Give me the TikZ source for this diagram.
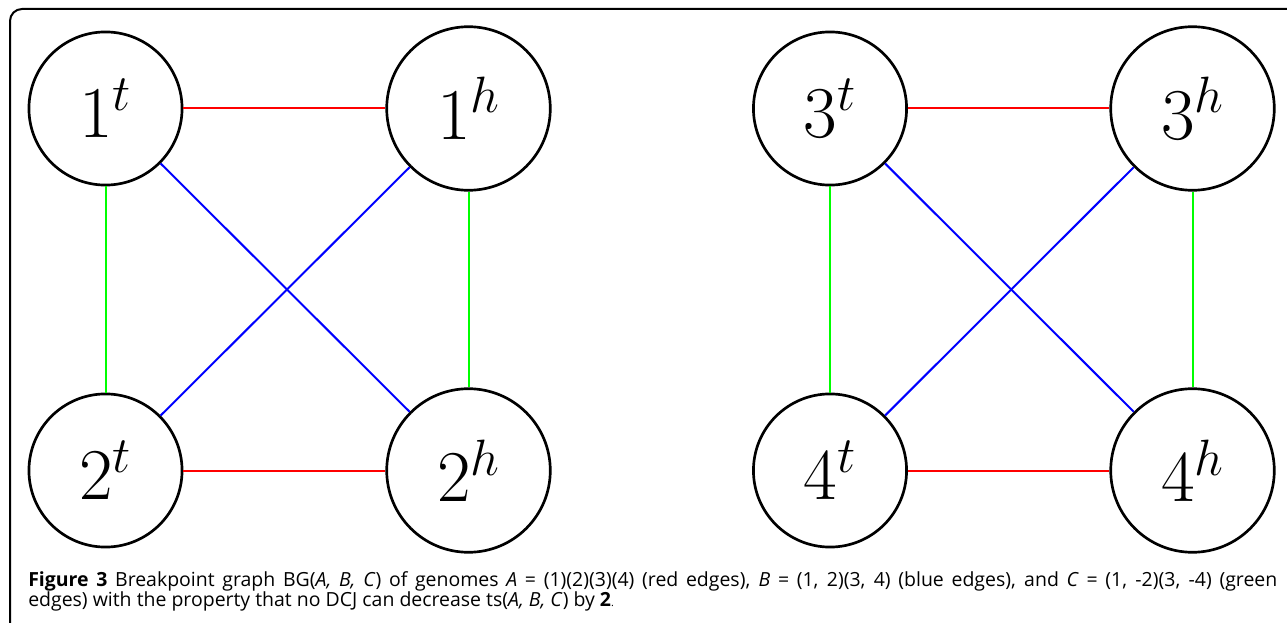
\RequirePackage{fix-cm}
\documentclass[tikz,border=0pt]{standalone}
\usepackage{fontspec}
\newfontfamily\capfont{Open Sans}
\definecolor{bgred}{RGB}{255,0,0}
\definecolor{bgblue}{RGB}{0,0,255}
\definecolor{bggreen}{RGB}{0,255,0}
\tikzset{
  vertex/.style={circle, draw=black, line width=2pt, inner sep=20pt,
    font=\fontsize{54.75}{60}\selectfont},
  redge/.style={draw=bgred, line width=1.5pt},
  bedge/.style={draw=bgblue, line width=1.5pt},
  gedge/.style={draw=bggreen, line width=1.5pt},
}
\begin{document}
\begin{tikzpicture}[x=0.75pt, y=-0.75pt]
        \useasboundingbox (0,0) rectangle (1287,623);
        \clip (0,0) rectangle (1287,623);

        % frame round the figure
        \draw[line width=1.5pt, rounded corners=9pt] (10,9) rectangle (1310,640);

        % left component
        \node[vertex] (t1) at (105.5,108.5) {$1^t$};
        \node[vertex] (h1) at (468.5,108.5) {$1^h$};
        \node[vertex] (t2) at (105.5,470.5) {$2^t$};
        \node[vertex] (h2) at (468.5,470.5) {$2^h$};

        % right component
        \node[vertex] (t3) at (830,108.5) {$3^t$};
        \node[vertex] (h3) at (1192.5,108.5) {$3^h$};
        \node[vertex] (t4) at (830,470.5) {$4^t$};
        \node[vertex] (h4) at (1192.5,470.5) {$4^h$};

        % red edges (A)
        \draw[redge] (t1) -- (h1);
        \draw[redge] (t2) -- (h2);
        \draw[redge] (t3) -- (h3);
        \draw[redge] (t4) -- (h4);

        % blue edges (B)
        \draw[bedge] (t1) -- (h2);
        \draw[bedge] (h1) -- (t2);
        \draw[bedge] (t3) -- (h4);
        \draw[bedge] (h3) -- (t4);

        % green edges (C)
        \draw[gedge] (t1) -- (t2);
        \draw[gedge] (h1) -- (h2);
        \draw[gedge] (t3) -- (t4);
        \draw[gedge] (h3) -- (h4);

        % caption
        \node[anchor=base west, inner sep=0pt, text width=936.75pt, align=justify,
          font=\capfont\fontsize{14.6}{15.5}\selectfont] (caption) at (28,586)
          {\hyphenpenalty=10000\textbf{Figure 3} Breakpoint graph BG(\textit{A, B, C}) of genomes \textit{A} = (1)(2)(3)(4) (red edges), \textit{B} = (1, 2)(3, 4) (blue edges), and \textit{C} = (1, -2)(3, -4) (green\linebreak edges) with the property that no DCJ can decrease ts(\textit{A, B, C}) by \textbf{2}{\footnotesize.}};
    \end{tikzpicture}
\end{document}
